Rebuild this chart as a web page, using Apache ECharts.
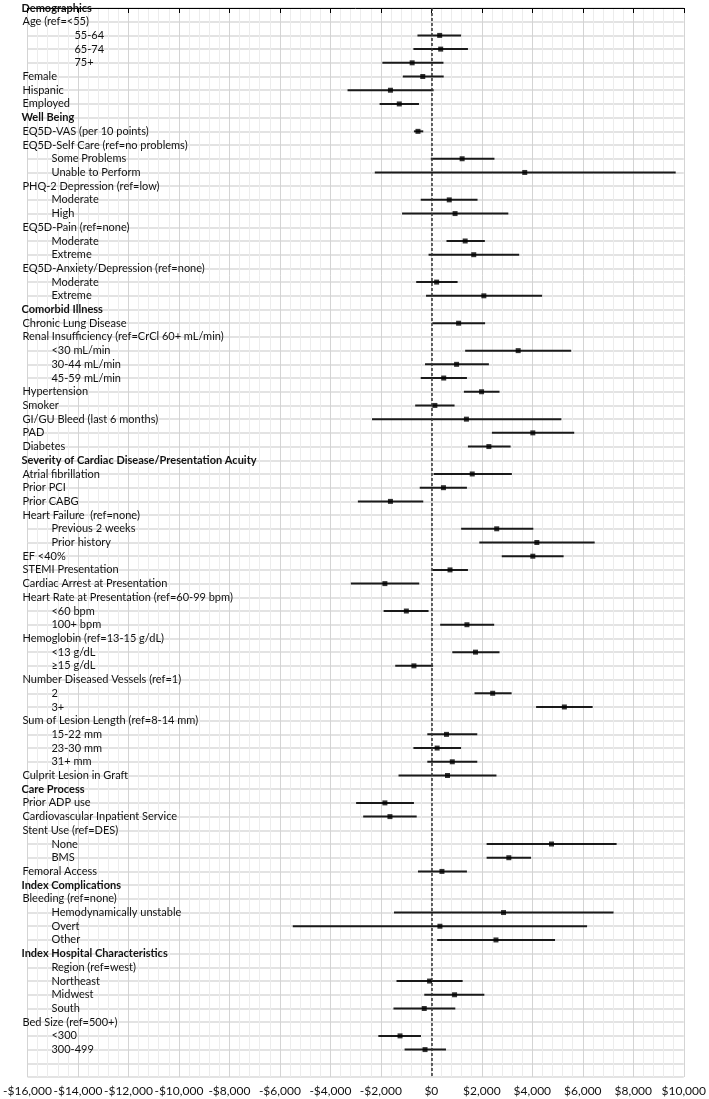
<!DOCTYPE html>
<html>
<head>
<meta charset="utf-8">
<script src="https://cdn.jsdelivr.net/npm/echarts@6/dist/echarts.min.js"></script>
<style>
  html, body { margin: 0; padding: 0; background: #fff; }
  #main { width: 709px; height: 1099px; }
</style>
</head>
<body>
<div id="main"></div>
<script type="text/javascript">
  // row labels, top to bottom; kind: H = section header, T = item, S = sub-item, A = age sub-item
  var rowLabels = [
    'Demographics', 'Age (ref=<55)', '55-64', '65-74', '75+', 'Female', 'Hispanic', 'Employed',
    'Well Being', 'EQ5D-VAS (per 10 points)', 'EQ5D-Self Care (ref=no problems)', 'Some Problems', 'Unable to Perform',
    'PHQ-2 Depression (ref=low)', 'Moderate', 'High', 'EQ5D-Pain (ref=none)', 'Moderate', 'Extreme',
    'EQ5D-Anxiety/Depression (ref=none)', 'Moderate', 'Extreme',
    'Comorbid Illness', 'Chronic Lung Disease', 'Renal Insufficiency (ref=CrCl 60+ mL/min)', '<30 mL/min', '30-44 mL/min', '45-59 mL/min',
    'Hypertension', 'Smoker', 'GI/GU Bleed (last 6 months)', 'PAD', 'Diabetes',
    'Severity of Cardiac Disease/Presentation Acuity', 'Atrial fibrillation', 'Prior PCI', 'Prior CABG',
    'Heart Failure  (ref=none)', 'Previous 2 weeks', 'Prior history', 'EF <40%', 'STEMI Presentation', 'Cardiac Arrest at Presentation',
    'Heart Rate at Presentation (ref=60-99 bpm)', '<60 bpm', '100+ bpm', 'Hemoglobin (ref=13-15 g/dL)', '<13 g/dL', '\u226515 g/dL',
    'Number Diseased Vessels (ref=1)', '2', '3+', 'Sum of Lesion Length (ref=8-14 mm)', '15-22 mm', '23-30 mm', '31+ mm',
    'Culprit Lesion in Graft',
    'Care Process', 'Prior ADP use', 'Cardiovascular Inpatient Service', 'Stent Use (ref=DES)', 'None', 'BMS', 'Femoral Access',
    'Index Complications', 'Bleeding (ref=none)', 'Hemodynamically unstable', 'Overt', 'Other',
    'Index Hospital Characteristics', 'Region (ref=west)', 'Northeast', 'Midwest', 'South', 'Bed Size (ref=500+)', '<300', '300-499'
  ];
  var rowKind = [
    'H', 'T', 'A', 'A', 'A', 'T', 'T', 'T',
    'H', 'T', 'T', 'S', 'S',
    'T', 'S', 'S', 'T', 'S', 'S',
    'T', 'S', 'S',
    'H', 'T', 'T', 'S', 'S', 'S',
    'T', 'T', 'T', 'T', 'T',
    'H', 'T', 'T', 'T',
    'T', 'S', 'S', 'T', 'T', 'T',
    'T', 'S', 'S', 'T', 'S', 'S',
    'T', 'S', 'S', 'T', 'S', 'S', 'S',
    'T',
    'H', 'T', 'T', 'T', 'S', 'S', 'T',
    'H', 'T', 'S', 'S', 'S',
    'H', 'S', 'S', 'S', 'S', 'T', 'S', 'S'
  ];
  var estimate = [
    null, null, 330, 370, -760, -340, -1620, -1270,
    null, -530, null, 1220, 3700,
    null, 710, 940, null, 1340, 1680,
    null, 210, 2080,
    null, 1080, null, 3440, 1000, 490,
    1990, 140, 1390, 4020, 2280,
    null, 1620, 480, -1620,
    null, 2590, 4180, 4020, 740, -1840,
    null, -990, 1410, null, 1750, -690,
    null, 2430, 5270, null, 600, 230, 830,
    640,
    null, -1840, -1640, null, 4760, 3070, 420,
    null, null, 2860, 340, 2560,
    null, null, -70, 920, -280, null, -1240, -250
  ];
  var lower = [
    null, null, -550, -710, -1940, -1130, -3320, -2050,
    null, -690, null, -20, -2240,
    null, -420, -1160, null, 600, -110,
    null, -600, -210,
    null, 40, null, 1340, -250, -420,
    1290, -640, -2350, 2400, 1450,
    null, 90, -460, -2910,
    null, 1180, 1900, 2790, 40, -3190,
    null, -1890, 350, null, 830, -1430,
    null, 1710, 4150, null, -160, -710, -160,
    -1300,
    null, -2980, -2700, null, 2190, 2190, -530,
    null, null, -1480, -5490, 230,
    null, null, -1380, -280, -1500, null, -2100, -1060
  ];
  var upper = [
    null, null, 1180, 1450, 480, 490, 90, -490,
    null, -320, null, 2500, 9680,
    null, 1830, 3050, null, 2120, 3480,
    null, 1040, 4390,
    null, 2130, null, 5540, 2280, 1410,
    2700, 920, 5150, 5660, 3140,
    null, 3190, 1410, -320,
    null, 4040, 6470, 5240, 1450, -480,
    null, -110, 2490, null, 2700, 70,
    null, 3180, 6390, null, 1820, 1180, 1820,
    2580,
    null, -690, -580, null, 7340, 3950, 1410,
    null, null, 7220, 6170, 4900,
    null, null, 1240, 2100, 950, null, -410, 580
  ];
  var xTicks = { min: -16000, max: 10000, step: 2000 };

  var ciData = [];
  var pointData = [];
  for (var i = 0; i < rowLabels.length; i++) {
    if (estimate[i] === null) continue;
    ciData.push([lower[i], upper[i], i]);
    pointData.push([estimate[i], i]);
  }

  function money(v) {
    var s = '$' + Math.abs(v).toString().replace(/\B(?=(\d{3})+(?!\d))/g, ',');
    return v < 0 ? '-' + s : s;
  }

  var FONT = 'Lato';
  var chart = echarts.init(document.getElementById('main'));
  chart.setOption({
    animation: false,
    backgroundColor: '#fff',
    grid: { left: 21, right: 21, top: 8, bottom: 22, containLabel: false },
    xAxis: {
      type: 'value',
      min: xTicks.min,
      max: xTicks.max,
      interval: xTicks.step,
      axisLine: { show: true, lineStyle: { color: '#000', width: 1 } },
      axisTick: { show: true, length: 5, lineStyle: { color: '#000' } },
      axisLabel: {
        formatter: money, color: '#111', fontFamily: FONT, fontSize: 12, margin: 8
      },
      splitLine: { show: true, lineStyle: { color: '#d4d4d4', width: 1 } },
      minorTick: { show: false, splitNumber: 5 },
      minorSplitLine: { show: true, lineStyle: { color: '#ececec', width: 1 } }
    },
    yAxis: {
      type: 'value',
      inverse: true,
      min: 0,
      max: rowLabels.length + 1,
      interval: 1,
      axisLine: { show: false },
      axisTick: { show: false },
      splitLine: { show: true, lineStyle: { color: '#dadada', width: 1.5 } },
      axisLabel: {
        inside: true,
        margin: -6,
        color: '#111',
        fontFamily: FONT,
        fontSize: 11,
        formatter: function (v) {
          var k = rowKind[v];
          if (!k) return '';
          return '{' + k + '|' + rowLabels[v] + '}';
        },
        rich: {
          H: { fontWeight: 'bold', fontFamily: FONT, fontSize: 11, color: '#111' },
          T: { fontFamily: FONT, fontSize: 11, color: '#111', padding: [0, 0, 0, 1] },
          S: { fontFamily: FONT, fontSize: 11, color: '#111', padding: [0, 0, 0, 30] },
          A: { fontFamily: FONT, fontSize: 11, color: '#111', padding: [0, 0, 0, 53] }
        }
      }
    },
    series: [
      {
        type: 'custom',
        data: ciData,
        encode: { x: [0, 1], y: 2 },
        renderItem: function (params, api) {
          var a = api.coord([api.value(0), api.value(2)]);
          var b = api.coord([api.value(1), api.value(2)]);
          return {
            type: 'line',
            shape: { x1: a[0], y1: a[1], x2: b[0], y2: b[1] },
            style: { stroke: '#1a1a1a', lineWidth: 2 }
          };
        },
        z: 3
      },
      {
        type: 'scatter',
        data: pointData,
        symbol: 'rect',
        symbolSize: 5,
        itemStyle: { color: '#000' },
        z: 4,
        markLine: {
          silent: true,
          symbol: 'none',
          label: { show: false },
          lineStyle: { color: '#333', type: [3, 2], width: 1.5 },
          data: [{ xAxis: 0 }]
        }
      }
    ]
  });
</script>
</body>
</html>
